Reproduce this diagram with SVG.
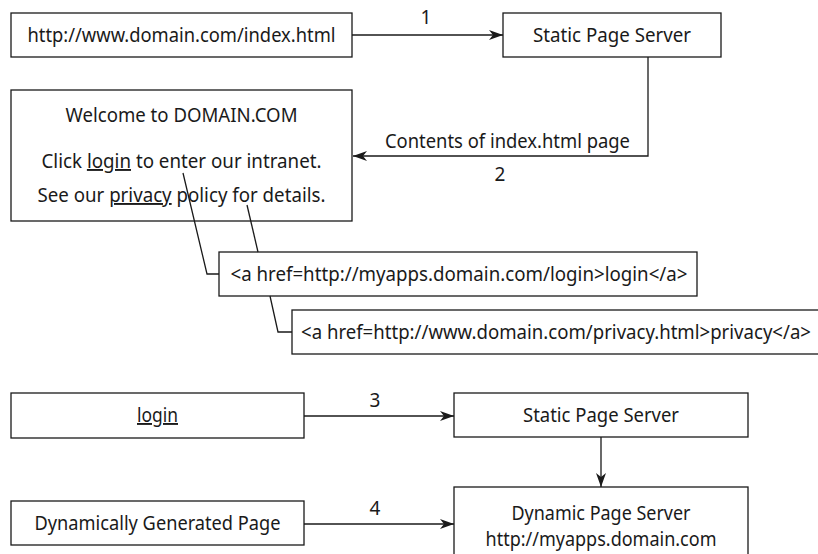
<svg xmlns="http://www.w3.org/2000/svg" width="818" height="554" viewBox="0 0 818 554">
<defs>
<style>
.box{fill:#fff;stroke:#1a1a1a;stroke-width:1.3}
.ln{fill:none;stroke:#1a1a1a;stroke-width:1.3}
text{font-family:"Noto Sans","Open Sans",sans-serif;font-size:19px;fill:#1a1a1a}
.c{text-anchor:middle}
.u{text-decoration:underline}
</style>
<marker id="ah" viewBox="0 0 14 10" refX="14" refY="5" markerWidth="14" markerHeight="10" markerUnits="userSpaceOnUse" orient="auto">
<path d="M0,0 L14,5 L0,10 L4,5 Z" fill="#1a1a1a"/>
</marker>
</defs>
<rect width="818" height="554" fill="#fff"/>
<g id="n-index">
<rect class="box" x="11" y="13" width="341" height="44"/>
<text class="c" x="181.5" y="42" textLength="308" lengthAdjust="spacingAndGlyphs">http://www.domain.com/index.html</text>
</g>
<g id="n-static1">
<rect class="box" x="503" y="13" width="218" height="44"/>
<text class="c" x="612" y="42" textLength="158" lengthAdjust="spacingAndGlyphs">Static Page Server</text>
</g>
<g id="n-welcome">
<rect class="box" x="11" y="90" width="341" height="131"/>
<text class="c" x="181.5" y="122" textLength="232" lengthAdjust="spacingAndGlyphs">Welcome to DOMAIN.COM</text>
<text class="c" x="181.5" y="168" textLength="280" lengthAdjust="spacingAndGlyphs">Click <tspan class="u">login</tspan> to enter our intranet.</text>
<text class="c" x="181.5" y="202" textLength="288" lengthAdjust="spacingAndGlyphs">See our <tspan class="u">privacy</tspan> policy for details.</text>
</g>
<g id="n-loginhref">
<rect class="box" x="219" y="252" width="478" height="44"/>
<text class="c" x="459" y="281" textLength="457" lengthAdjust="spacingAndGlyphs">&lt;a href=http://myapps.domain.com/login&gt;login&lt;/a&gt;</text>
</g>
<g id="n-privacyhref">
<rect class="box" x="292" y="310" width="540" height="44"/>
<text x="301" y="339" textLength="510" lengthAdjust="spacingAndGlyphs">&lt;a href=http://www.domain.com/privacy.html&gt;privacy&lt;/a&gt;</text>
</g>
<g id="n-login">
<rect class="box" x="11" y="393" width="293" height="45"/>
<text class="c u" x="157.5" y="422" textLength="41" lengthAdjust="spacingAndGlyphs">login</text>
</g>
<g id="n-static2">
<rect class="box" x="454" y="393" width="294" height="44"/>
<text class="c" x="601" y="422" textLength="156" lengthAdjust="spacingAndGlyphs">Static Page Server</text>
</g>
<g id="n-dyngen">
<rect class="box" x="11" y="501" width="293" height="44"/>
<text class="c" x="157.5" y="530" textLength="246" lengthAdjust="spacingAndGlyphs">Dynamically Generated Page</text>
</g>
<g id="n-dynserver">
<rect class="box" x="454" y="487" width="294" height="72"/>
<text class="c" x="601" y="520" textLength="179" lengthAdjust="spacingAndGlyphs">Dynamic Page Server</text>
<text class="c" x="601" y="546" textLength="231" lengthAdjust="spacingAndGlyphs">http://myapps.domain.com</text>
</g>
<g id="connectors">
<line class="ln" x1="352" y1="35" x2="503" y2="35" marker-end="url(#ah)"/>
<text class="c" x="426" y="24">1</text>
<polyline class="ln" points="648,57 648,156 353,156" marker-end="url(#ah)"/>
<text class="c" x="507.5" y="148" textLength="245" lengthAdjust="spacingAndGlyphs">Contents of index.html page</text>
<text class="c" x="500" y="181">2</text>
<polyline class="ln" points="183,173 207,274 219,274"/>
<polyline class="ln" points="247,205 258,252"/>
<polyline class="ln" points="270,296 278,332 292,332"/>
<line class="ln" x1="304" y1="416" x2="454" y2="416" marker-end="url(#ah)"/>
<text class="c" x="375" y="407">3</text>
<line class="ln" x1="601" y1="437" x2="601" y2="487" marker-end="url(#ah)"/>
<line class="ln" x1="304" y1="524" x2="454" y2="524" marker-end="url(#ah)"/>
<text class="c" x="375" y="515">4</text>
</g>
</svg>
